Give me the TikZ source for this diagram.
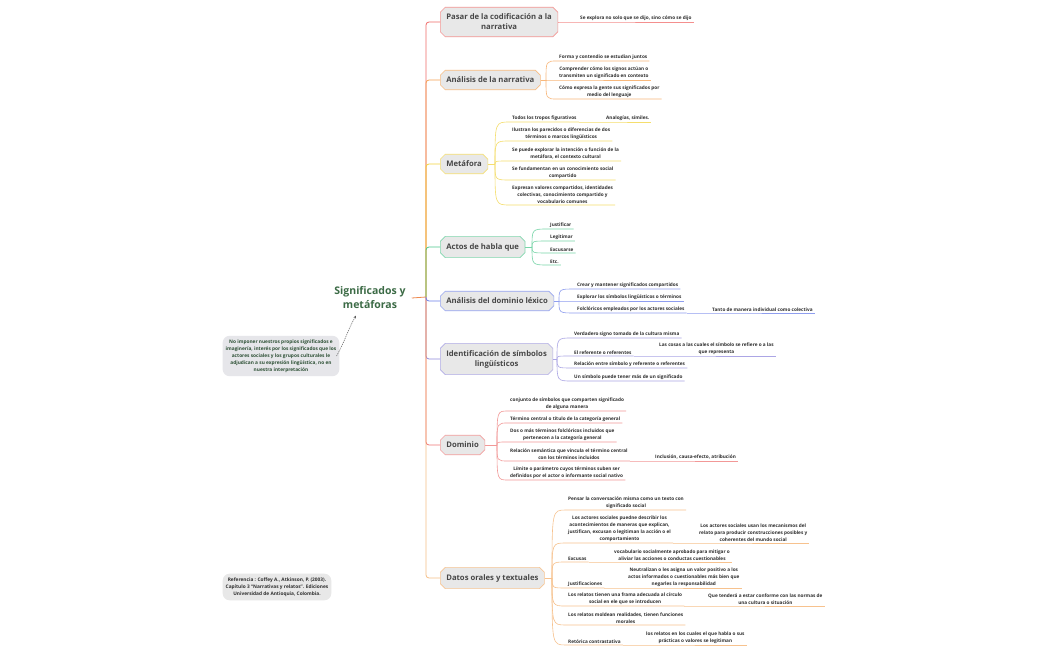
\documentclass[tikz,border=0pt]{standalone}
\usepackage{fontspec}
\setmainfont{Open Sans}
\usetikzlibrary{shapes.misc,arrows.meta}
\definecolor{boxfill}{HTML}{E8E8E8}
\definecolor{boxtext}{HTML}{474747}
\definecolor{kidtext}{HTML}{2E2E2E}
\definecolor{rootgreen}{HTML}{3C6B46}
\definecolor{cA}{HTML}{F06A68}
\definecolor{cB}{HTML}{F5A050}
\definecolor{cC}{HTML}{F2D33C}
\definecolor{cD}{HTML}{4CC78C}
\definecolor{cE}{HTML}{6A7EEA}
\definecolor{cF}{HTML}{9088DC}
\definecolor{cG}{HTML}{EE7675}
\definecolor{cH}{HTML}{F4AE68}
\definecolor{cStub}{HTML}{EE8A50}
\definecolor{notefill}{HTML}{E6E6EA}
\tikzset{
 branch/.style={chamfered rectangle, chamfered rectangle xsep=2.5pt, chamfered rectangle ysep=2.5pt,
   fill=boxfill, draw=#1!70!white, line width=0.6pt, font=\bfseries\fontsize{7.7}{10}\selectfont,
   text=boxtext, align=center, inner xsep=3.5pt, inner ysep=4.3pt, anchor=west},
 kid/.style={font=\bfseries\fontsize{4.7}{7}\selectfont, text=kidtext, align=center,
   inner xsep=2pt, inner ysep=1.3pt, anchor=south west},
 kline/.style={draw=#1!75!white, line width=0.6pt},
 trunk/.style={draw=#1, line width=0.8pt, rounded corners=3pt},
 notebox/.style={fill=#1, rounded corners=7pt, font=\bfseries\fontsize{4.8}{6.9}\selectfont,
   align=center, inner xsep=3pt, inner ysep=4pt},
}
\newcommand\mmkid[6]{\node[kid] (#1) at (#4,#5) {#6};
 \draw[kline=#2] (#3) .. controls (#3 |- #1.south west) .. (#1.south west) -- (#1.south east);}
\newcommand\mmsub[6]{\node[kid] (#1) at (#4,#5) {#6};
 \draw[kline=#2] (#3.south east) -- (#1.south west) -- (#1.south east);}
\begin{document}
\begin{tikzpicture}[x=1pt,y=-1pt]
\useasboundingbox[fill=white] (0,0) rectangle (1050,650);

% root
\node[font=\bfseries\fontsize{10.5}{14}\selectfont, text=rootgreen, align=center, inner xsep=6pt] (root) at (370,298) {Significados y\\metáforas};
\coordinate (hub) at (426,297);

% branches
\node[branch=cA, minimum width=117pt] (b1) at (440,22) {Pasar de la codificación a la\\narrativa};
\node[branch=cB] (b2) at (440,80) {Análisis de la narrativa};
\node[branch=cC] (b3) at (440,164) {Metáfora};
\node[branch=cD] (b4) at (440,247) {Actos de habla que};
\node[branch=cE] (b5) at (440,301) {Análisis del dominio léxico};
\node[branch=cF, minimum width=112pt] (b6) at (440,359) {Identificación de símbolos\\lingüísticos};
\node[branch=cG] (b7) at (440,445) {Dominio};
\node[branch=cH] (b8) at (440,578) {Datos orales y textuales};

% trunk
\draw[trunk=cStub] (root.east) -- (hub);
\draw[trunk=cA] (hub) |- (b1.west);
\draw[trunk=cB] (hub) |- (b2.west);
\draw[trunk=cC] (hub) |- (b3.west);
\draw[trunk=cD] (hub) |- (b4.west);
\draw[trunk=cF] (hub) |- (b6.west);
\draw[trunk=cG] (hub) |- (b7.west);
\draw[trunk=cH, opacity=0.8] (hub) |- (b8.west);
\draw[trunk=cE] (hub) |- (b5.west);

% branch 1
\mmkid{c11}{cA}{b1.east}{578}{22}{Se explora no solo que se dijo, sino cómo se dijo}

% branch 2
\coordinate (f2) at (546,80);
\draw[kline=cB] (b2.east) -- (f2);
\mmkid{c21}{cB}{f2}{557}{61}{Forma y contendio se estudian juntos}
\mmkid{c22}{cB}{f2}{557}{80}{Comprender cómo los signos actúan o\\transmiten un significado en contexto}
\mmkid{c23}{cB}{f2}{557}{99}{Cómo expresa la gente sus significados por\\medio del lenguaje}

% branch 3
\coordinate (f3) at (495,164);
\draw[kline=cC] (b3.east) -- (f3);
\mmkid{c31}{cC}{f3}{510}{122}{Todos los tropos figurativos}
\mmsub{c31a}{cC}{c31}{604}{122}{Analogías, símiles.}
\mmkid{c32}{cC}{f3}{510}{141}{Ilustran los parecidos o diferencias de dos\\términos o marcos lingüísticos}
\mmkid{c33}{cC}{f3}{510}{161}{Se puede explorar la intención o función de la\\metáfora, el contexto cultural}
\mmkid{c34}{cC}{f3}{510}{180}{Se fundamentan en un conocimiento social\\compartido}
\mmkid{c35}{cC}{f3}{510}{205}{Expresan valores compartidos, identidades\\colectivas, conocimiento compartido y\\vocabulario comunes}

% branch 4
\coordinate (f4) at (532,247);
\draw[kline=cD] (b4.east) -- (f4);
\mmkid{c41}{cD}{f4}{548}{229}{Justificar}
\mmkid{c42}{cD}{f4}{548}{241}{Legitimar}
\mmkid{c43}{cD}{f4}{548}{253}{Excusarse}
\mmkid{c44}{cD}{f4}{548}{265}{Etc.}

% branch 5
\coordinate (f5) at (559,301);
\draw[kline=cE] (b5.east) -- (f5);
\mmkid{c51}{cE}{f5}{575}{289}{Crear y mantener significados compartidos}
\mmkid{c52}{cE}{f5}{575}{301}{Explorar los símbolos lingüísticos o términos}
\mmkid{c53}{cE}{f5}{575}{313}{Folclóricos empleados por los actores sociales}
\mmsub{c53a}{cE}{c53}{710}{313}{Tanto de manera individual como colectiva}

% branch 6
\coordinate (f6) at (557,359);
\draw[kline=cF] (b6.east) -- (f6);
\mmkid{c61}{cF}{f6}{572}{338}{Verdadero signo tomado de la cultura misma}
\mmkid{c62}{cF}{f6}{572}{356}{El referente o referentes}
\mmsub{c62a}{cF}{c62}{657}{356}{Las cosas a las cuales el símbolo se refiere o a las\\que representa}
\mmkid{c63}{cF}{f6}{572}{368}{Relación entre símbolo y referente o referentes}
\mmkid{c64}{cF}{f6}{572}{381}{Un símbolo puede tener más de un significado}

% branch 7
\coordinate (f7) at (497,445);
\draw[kline=cG] (b7.east) -- (f7);
\mmkid{c71}{cG}{f7}{508}{411}{conjunto de símbolos que comparten significado\\de alguna manera}
\mmkid{c72}{cG}{f7}{508}{423}{Término central o título de la categoría general}
\mmkid{c73}{cG}{f7}{508}{442}{Dos o más términos folclóricos incluidos que\\pertenecen a la categoría general}
\mmkid{c74}{cG}{f7}{508}{461}{Relación semántica que vincula el término central\\con los términos incluidos}
\mmsub{c74a}{cG}{c74}{653}{461}{Inclusión, causa-efecto, atribución}
\mmkid{c75}{cG}{f7}{508}{480}{Límite o parámetro cuyos términos suben ser\\definidos por el actor o informante social nativo}

% branch 8
\coordinate (f8) at (552,578);
\draw[kline=cH] (b8.east) -- (f8);
\mmkid{c81}{cH}{f8}{566}{510}{Pensar la conversación misma como un texto con\\significado social}
\mmkid{c82}{cH}{f8}{566}{543}{Los actores sociales puedne describir los\\acontecimientos de maneras que explican,\\justifican, excusan o legitiman la acción o el\\comportamiento}
\mmsub{c82a}{cH}{c82}{697}{543}{Los actores sociales usan los mecanismos del\\relato para producir construcciones posibles y\\coherentes del mundo social}
\mmkid{c83}{cH}{f8}{566}{562}{Excusas}
\mmsub{c83a}{cH}{c83}{612}{562}{vocabulario socialmente aprobado para mitigar o\\aliviar las acciones o conductas cuestionables}
\mmkid{c84}{cH}{f8}{566}{588}{Justificaciones}
\mmsub{c84a}{cH}{c84}{626}{588}{Neutralizan o les asigna un valor positivo a los\\actos informados o cuestionables más bien que\\negarles la responsabilidad}
\mmkid{c85}{cH}{f8}{566}{606}{Los relatos tienen una frama adecuada al círculo\\social en ele que se introducen}
\mmsub{c85a}{cH}{c85}{706}{606}{Que tenderá a estar conforme con las normas de\\una cultura o situación}
\mmkid{c86}{cH}{f8}{566}{625}{Los relatos moldean realidades, tienen funciones\\morales}
\mmkid{c87}{cH}{f8}{566}{645}{Retórica contrastativa}
\mmsub{c87a}{cH}{c87}{644}{645}{los relatos en los cuales el que habla o sus\\prácticas o valores se legitiman}

% floating notes
\node[notebox=notefill, text=rootgreen!75!black] (note) at (281,356) {No imponer nuestros propios significados e\\imaginería, interés por los significados que los\\actores sociales y los grupos culturales le\\adjudican a su expresión lingüística, no en\\nuestra interpretación};
\draw[dash pattern=on 1.2pt off 0.9pt, line width=0.5pt, black!65, -{Stealth[length=3pt,width=2.5pt]}]
  ([xshift=-3pt]note.east) to[out=60,in=240] ([xshift=-14pt,yshift=-3pt]root.south);
\node[notebox=boxfill, text=kidtext] (ref) at (277,587) {Referencia : Coffey A., Atkinson, P. (2003).\\Capítulo 3 “Narrativas y relatos”. Ediciones\\Universidad de Antioquia, Colombia.};
\end{tikzpicture}
\end{document}
